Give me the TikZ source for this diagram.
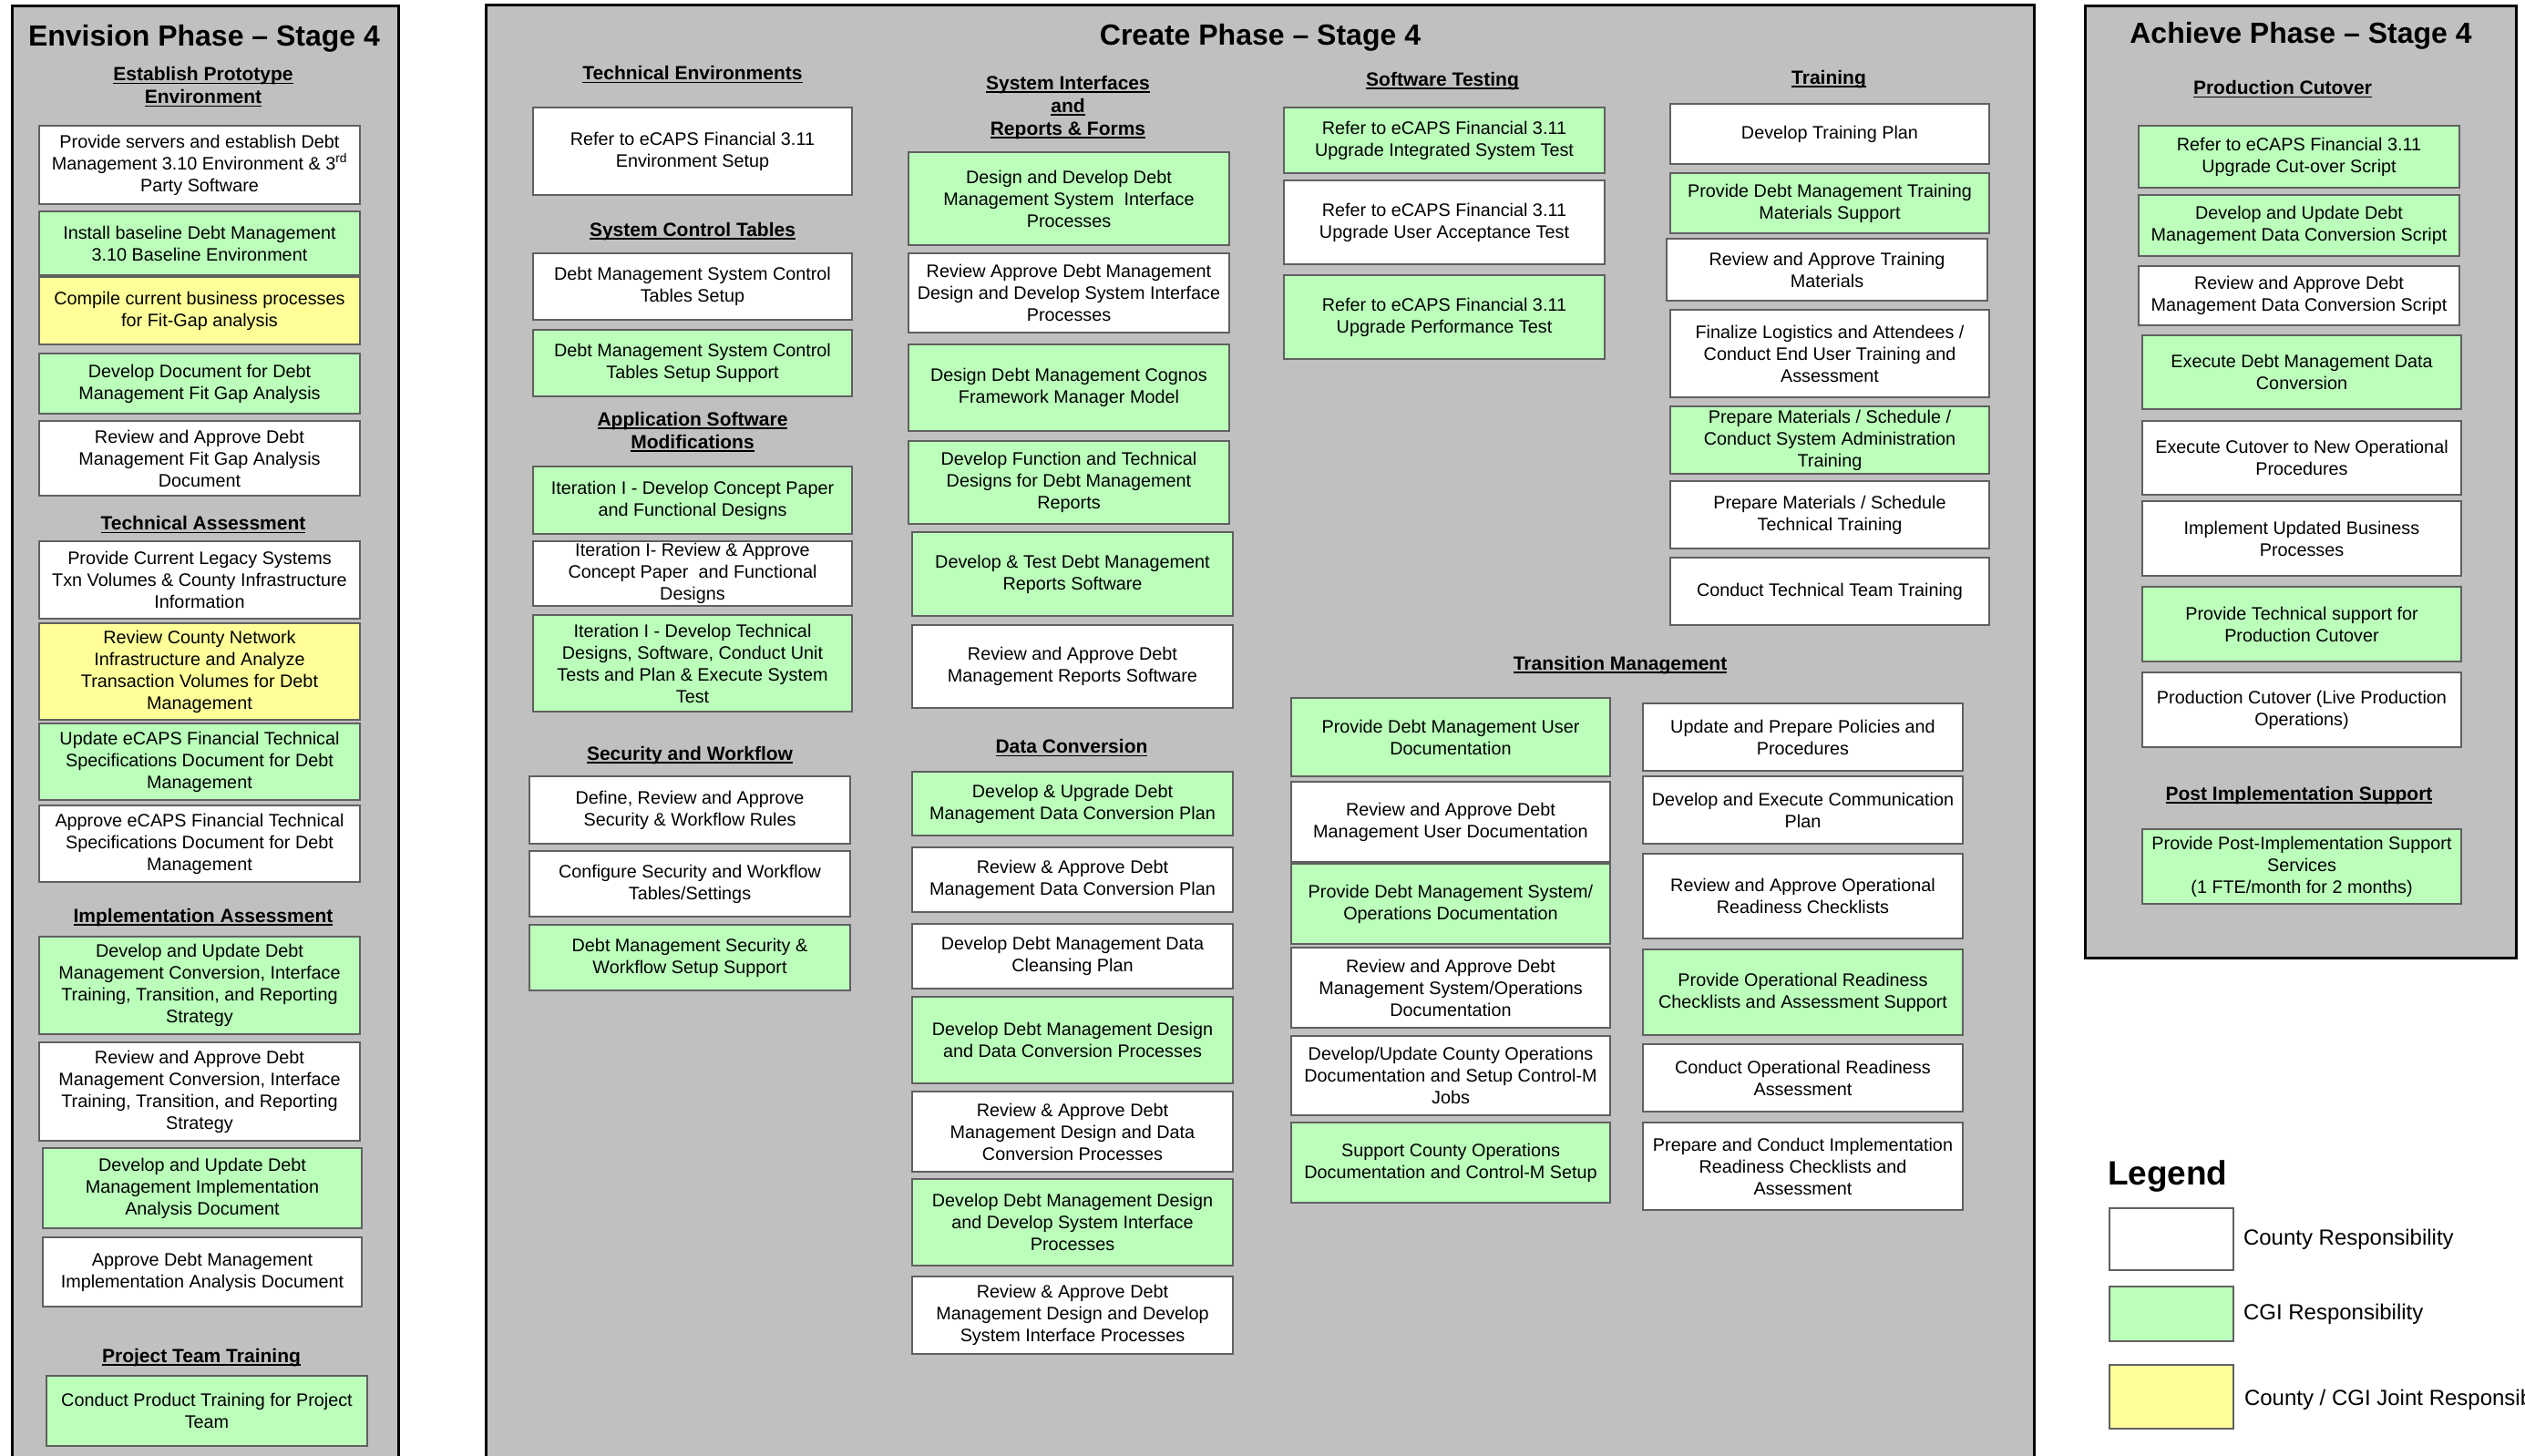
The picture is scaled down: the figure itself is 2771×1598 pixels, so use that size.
\documentclass[tikz,border=0pt]{standalone}
\usepackage{fontspec}
\setmainfont{Liberation Sans}
\definecolor{panelgray}{RGB}{192,192,192}
\definecolor{cgigreen}{RGB}{187,255,187}
\definecolor{jointyellow}{RGB}{255,255,153}
\definecolor{boxline}{RGB}{96,96,96}
\newsavebox\hulbox
\newcommand\hul[1]{\sbox\hulbox{#1}\rlap{\rule[-3.5pt]{\wd\hulbox}{1.5pt}}\usebox\hulbox}
\newcommand\bx[7]{\node[#2, minimum width={(#5-#3)*1pt}, minimum height={(#6-#4)*1pt}] (#1) at ({(#3+#5)/2},{(#4+#6)/2}) {#7};}
\begin{document}
\begin{tikzpicture}[x=1pt,y=-1pt,
  every node/.style={inner sep=0pt, outer sep=0pt},
  task/.style={draw=boxline, line width=1.5pt, align=center, font=\fontsize{19.8}{24}\selectfont},
  cty/.style={task, fill=white},
  cgi/.style={task, fill=cgigreen},
  jnt/.style={task, fill=jointyellow},
  panel/.style={draw=black, line width=3pt, fill=panelgray},
  ptitle/.style={font=\bfseries\fontsize{32}{38}\selectfont},
  hd/.style={align=center, font=\bfseries\fontsize{21}{25}\selectfont},
  lbl/.style={anchor=west, font=\fontsize{24}{28}\selectfont}]
\useasboundingbox (0,0) rectangle (2771,1598);
\fill[white] (0,0) rectangle (2771,1598);
% panels
\draw[panel] (13,6) rectangle (437,1625);
\draw[panel] (533,5) rectangle (2232,1625);
\draw[panel] (2288,6) rectangle (2761,1051);

% ===== Envision =====
\node[ptitle] (envtitle) at (224,42) {Envision Phase \textendash{} Stage 4};
\node[hd] (h_proto) at (223,95.5) {\hul{Establish Prototype}\\\hul{Environment}};
\bx{e1}{cty}{43}{138}{395}{224}{Provide servers and establish Debt\\Management 3.10 Environment \& 3\textsuperscript{rd}\\Party Software}
\bx{e2}{cgi}{43}{232}{395}{302}{Install baseline Debt Management\\3.10 Baseline Environment}
\bx{e3}{jnt}{43}{304}{395}{378}{Compile current business processes\\for Fit-Gap analysis}
\bx{e4}{cgi}{43}{388}{395}{454}{Develop Document for Debt\\Management Fit Gap Analysis}
\bx{e5}{cty}{43}{462}{395}{544}{Review and Approve Debt\\Management Fit Gap Analysis\\Document}
\node[hd] (h_tech) at (223,576) {\hul{Technical Assessment}};
\bx{e6}{cty}{43}{594}{395}{679}{Provide Current Legacy Systems\\Txn Volumes \& County Infrastructure\\Information}
\bx{e7}{jnt}{43}{684}{395}{790}{Review County Network\\Infrastructure and Analyze\\Transaction Volumes for Debt\\Management}
\bx{e8}{cgi}{43}{794}{395}{878}{Update eCAPS Financial Technical\\Specifications Document for Debt\\Management}
\bx{e9}{cty}{43}{884}{395}{968}{Approve eCAPS Financial Technical\\Specifications Document for Debt\\Management}
\node[hd] (h_impl) at (223,1007) {\hul{Implementation Assessment}};
\bx{e10}{cgi}{43}{1028}{395}{1135}{Develop and Update Debt\\Management Conversion, Interface\\Training, Transition, and Reporting\\Strategy}
\bx{e11}{cty}{43}{1144}{395}{1252}{Review and Approve Debt\\Management Conversion, Interface\\Training, Transition, and Reporting\\Strategy}
\bx{e12}{cgi}{47}{1260}{397}{1348}{Develop and Update Debt\\Management Implementation\\Analysis Document}
\bx{e13}{cty}{47}{1358}{397}{1434}{Approve Debt Management\\Implementation Analysis Document}
\node[hd] (h_ptt) at (221,1490) {\hul{Project Team Training}};
\bx{e14}{cgi}{51}{1510}{403}{1587}{Conduct Product Training for Project\\Team}

% ===== Create =====
\node[ptitle] (crtitle) at (1383,41) {Create Phase \textendash{} Stage 4};
\node[hd] (h_te) at (760,82) {\hul{Technical Environments}};
\bx{c1}{cty}{585}{118}{935}{214}{Refer to eCAPS Financial 3.11\\Environment Setup}
\node[hd] (h_sct) at (760,254) {\hul{System Control Tables}};
\bx{c2}{cty}{585}{278}{935}{351}{Debt Management System Control\\Tables Setup}
\bx{c3}{cgi}{585}{362}{935}{435}{Debt Management System Control\\Tables Setup Support}
\node[hd] (h_asm) at (760,474) {\hul{Application Software}\\\hul{Modifications}};
\bx{c4}{cgi}{585}{512}{935}{586}{Iteration I - Develop Concept Paper\\and Functional Designs}
\bx{c5}{cty}{585}{594}{935}{665}{Iteration I- Review \& Approve\\Concept Paper\ \ and Functional\\Designs}
\bx{c6}{cgi}{585}{675}{935}{781}{Iteration I - Develop Technical\\Designs, Software, Conduct Unit\\Tests and Plan \& Execute System\\Test}
\node[hd] (h_sw) at (757,829) {\hul{Security and Workflow}};
\bx{c7}{cty}{581}{852}{933}{926}{Define, Review and Approve\\Security \& Workflow Rules}
\bx{c8}{cty}{581}{934}{933}{1006}{Configure Security and Workflow\\Tables/Settings}
\bx{c9}{cgi}{581}{1015}{933}{1087}{Debt Management Security \&\\Workflow Setup Support}

\node[hd] (h_si) at (1172,118) {\hul{System Interfaces}\\\hul{and}\\\hul{Reports \& Forms}};
\bx{s1}{cgi}{997}{167}{1349}{269}{Design and Develop Debt\\Management System\ \ Interface\\Processes}
\bx{s2}{cty}{997}{278}{1349}{365}{Review Approve Debt Management\\Design and Develop System Interface\\Processes}
\bx{s3}{cgi}{997}{378}{1349}{473}{Design Debt Management Cognos\\Framework Manager Model}
\bx{s4}{cgi}{997}{484}{1349}{575}{Develop Function and Technical\\Designs for Debt Management\\Reports}
\bx{s5}{cgi}{1001}{584}{1353}{676}{Develop \& Test Debt Management\\Reports Software}
\bx{s6}{cty}{1001}{686}{1353}{777}{Review and Approve Debt\\Management Reports Software}
\node[hd] (h_dc) at (1176,821) {\hul{Data Conversion}};
\bx{d1}{cgi}{1001}{847}{1353}{917}{Develop \& Upgrade Debt\\Management Data Conversion Plan}
\bx{d2}{cty}{1001}{930}{1353}{1001}{Review \& Approve Debt\\Management Data Conversion Plan}
\bx{d3}{cty}{1001}{1014}{1353}{1085}{Develop Debt Management Data\\Cleansing Plan}
\bx{d4}{cgi}{1001}{1094}{1353}{1189}{Develop Debt Management Design\\and Data Conversion Processes}
\bx{d5}{cty}{1001}{1198}{1353}{1286}{Review \& Approve Debt\\Management Design and Data\\Conversion Processes}
\bx{d6}{cgi}{1001}{1294}{1353}{1389}{Develop Debt Management Design\\and Develop System Interface\\Processes}
\bx{d7}{cty}{1001}{1401}{1353}{1486}{Review \& Approve Debt\\Management Design and Develop\\System Interface Processes}

\node[hd] (h_st) at (1583,89) {\hul{Software Testing}};
\bx{st1}{cgi}{1409}{118}{1761}{190}{Refer to eCAPS Financial 3.11\\Upgrade Integrated System Test}
\bx{st2}{cty}{1409}{198}{1761}{290}{Refer to eCAPS Financial 3.11\\Upgrade User Acceptance Test}
\bx{st3}{cgi}{1409}{302}{1761}{394}{Refer to eCAPS Financial 3.11\\Upgrade Performance Test}

\node[hd] (h_tr) at (2007,87) {\hul{Training}};
\bx{t1}{cty}{1833}{114}{2183}{180}{Develop Training Plan}
\bx{t2}{cgi}{1833}{190}{2183}{256}{Provide Debt Management Training\\Materials Support}
\bx{t3}{cty}{1829}{262}{2181}{330}{Review and Approve Training\\Materials}
\bx{t4}{cty}{1833}{340}{2183}{436}{Finalize Logistics and Attendees /\\Conduct End User Training and\\Assessment}
\bx{t5}{cgi}{1833}{446}{2183}{520}{Prepare Materials / Schedule /\\Conduct System Administration\\Training}
\bx{t6}{cty}{1833}{528}{2183}{602}{Prepare Materials / Schedule\\Technical Training}
\bx{t7}{cty}{1833}{612}{2183}{686}{Conduct Technical Team Training}

\node[hd] (h_tm) at (1778,730) {\hul{Transition Management}};
\bx{l1}{cgi}{1417}{766}{1767}{852}{Provide Debt Management User\\Documentation}
\bx{l2}{cty}{1417}{858}{1767}{946}{Review and Approve Debt\\Management User Documentation}
\bx{l3}{cgi}{1417}{948}{1767}{1036}{Provide Debt Management System/\\Operations Documentation}
\bx{l4}{cty}{1417}{1040}{1767}{1128}{Review and Approve Debt\\Management System/Operations\\Documentation}
\bx{l5}{cty}{1417}{1137}{1767}{1224}{Develop/Update County Operations\\Documentation and Setup Control-M\\Jobs}
\bx{l6}{cgi}{1417}{1232}{1767}{1320}{Support County Operations\\Documentation and Control-M Setup}
\bx{r1}{cty}{1803}{772}{2154}{846}{Update and Prepare Policies and\\Procedures}
\bx{r2}{cty}{1803}{852}{2154}{926}{Develop and Execute Communication\\Plan}
\bx{r3}{cty}{1803}{937}{2154}{1030}{Review and Approve Operational\\Readiness Checklists}
\bx{r4}{cgi}{1803}{1042}{2154}{1136}{Provide Operational Readiness\\Checklists and Assessment Support}
\bx{r5}{cty}{1803}{1146}{2154}{1220}{Conduct Operational Readiness\\Assessment}
\bx{r6}{cty}{1803}{1232}{2154}{1328}{Prepare and Conduct Implementation\\Readiness Checklists and\\Assessment}

% ===== Achieve =====
\node[ptitle] (actitle) at (2525,39) {Achieve Phase \textendash{} Stage 4};
\node[hd] (h_pc) at (2505,98) {\hul{Production Cutover}};
\bx{a1}{cgi}{2347}{138}{2699}{206}{Refer to eCAPS Financial 3.11\\Upgrade Cut-over Script}
\bx{a2}{cgi}{2347}{214}{2699}{281}{Develop and Update Debt\\Management Data Conversion Script}
\bx{a3}{cty}{2347}{292}{2699}{357}{Review and Approve Debt\\Management Data Conversion Script}
\bx{a4}{cgi}{2351}{368}{2701}{449}{Execute Debt Management Data\\Conversion}
\bx{a5}{cty}{2351}{462}{2701}{543}{Execute Cutover to New Operational\\Procedures}
\bx{a6}{cty}{2351}{550}{2701}{632}{Implement Updated Business\\Processes}
\bx{a7}{cgi}{2351}{644}{2701}{726}{Provide Technical support for\\Production Cutover}
\bx{a8}{cty}{2351}{738}{2701}{820}{Production Cutover (Live Production\\Operations)}
\node[hd] (h_pis) at (2523,873) {\hul{Post Implementation Support}};
\bx{a9}{cgi}{2351}{910}{2701}{992}{Provide Post-Implementation Support\\Services\\(1 FTE/month for 2 months)}

% ===== Legend =====
\node[anchor=base west, font=\bfseries\fontsize{37}{44}\selectfont] (legend) at (2313,1300) {Legend};
\bx{lg1}{cty}{2315}{1326}{2451}{1394}{}
\bx{lg2}{cgi}{2315}{1412}{2451}{1472}{}
\bx{lg3}{jnt}{2315}{1498}{2451}{1568}{}
\node[lbl] (lt1) at ([xshift=11pt]lg1.east) {County Responsibility};
\node[lbl] (lt2) at ([xshift=11pt]lg2.east) {CGI Responsibility};
\node[lbl] (lt3) at ([xshift=12pt,yshift=-3pt]lg3.east) {County / CGI Joint Responsibility};
\end{tikzpicture}
\end{document}
